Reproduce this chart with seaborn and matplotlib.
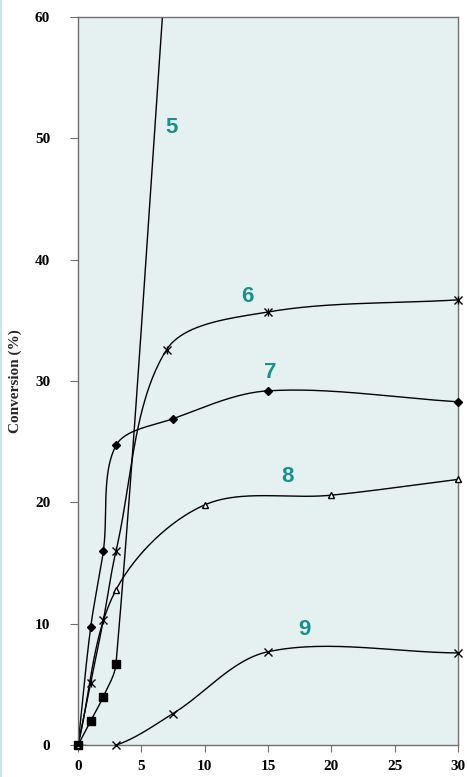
import numpy as np
import pandas as pd
import matplotlib
matplotlib.use("Agg")
import matplotlib.pyplot as plt
from matplotlib.lines import Line2D
import seaborn as sns

# Reaction time (x) and conversion (%) for each catalyst run
t5 = [0, 1, 2, 3, 7]
c5 = [0, 2.0, 4.0, 6.7, 65.0]

t6 = [0, 1, 2, 3, 7, 15, 30]
c6 = [0, 5.1, 10.3, 16.0, 32.6, 35.7, 36.7]

t7 = [0, 1, 2, 3, 7.5, 15, 30]
c7 = [0, 9.7, 16.0, 24.7, 26.9, 29.2, 28.3]

t8 = [0, 3, 10, 20, 30]
c8 = [0, 12.8, 19.8, 20.6, 21.9]

t9 = [0, 3, 7.5, 15, 30]
c9 = [0, 0.0, 2.6, 7.7, 7.6]

series_names = ["5", "6", "7", "8", "9"]
x_ticks = [0, 5, 10, 15, 20, 25, 30]
y_ticks = [0, 10, 20, 30, 40, 50, 60]


def smooth(xs, ys, n=50):
    """Chord-length scaled Bezier smoothing through every point."""
    p = np.column_stack([xs, ys]).astype(float)
    m = len(p)
    d = np.linalg.norm(np.diff(p, axis=0), axis=1)
    tang = np.zeros_like(p)
    for i in range(m):
        if i == 0:
            tang[i] = (p[1] - p[0]) / d[0]
        elif i == m - 1:
            tang[i] = (p[-1] - p[-2]) / d[-1]
        else:
            tang[i] = (p[i + 1] - p[i - 1]) / (d[i] + d[i - 1])
    out = []
    s = np.linspace(0, 1, n)[:, None]
    for i in range(m - 1):
        p1, p2 = p[i], p[i + 1]
        c1 = p1 + tang[i] * d[i] / 3.0
        c2 = p2 - tang[i + 1] * d[i] / 3.0
        seg = ((1 - s) ** 3) * p1 + 3 * ((1 - s) ** 2) * s * c1 \
            + 3 * (1 - s) * s ** 2 * c2 + s ** 3 * p2
        out.append(seg if i == 0 else seg[1:])
    return np.vstack(out)


sns.set_theme(style="ticks")
plt.rcParams["font.family"] = ["Liberation Serif", "DejaVu Serif"]

fig = plt.figure(figsize=(4.67, 7.77), dpi=100)
ax = fig.add_axes([0.167, 0.041, 0.814, 0.937])
ax.set_facecolor("#e5f1f1")

data = {
    "5": (t5, c5, "s", 6, "black"),
    "6": (t6, c6, "x", 6, "black"),
    "7": (t7, c7, "D", 4, "black"),
    "8": (t8, c8, "^", 5, "white"),
    "9": (t9, c9, "x", 6, "black"),
}

for name in series_names:
    xs, ys, mk, ms, fc = data[name]
    curve = smooth(xs, ys)
    df_curve = pd.DataFrame({"t": curve[:, 0], "c": curve[:, 1]})
    sns.lineplot(data=df_curve, x="t", y="c", sort=False, estimator=None,
                 color="black", lw=1.0, ax=ax)
    df_pts = pd.DataFrame({"t": xs, "c": ys})
    ax.plot(df_pts["t"], df_pts["c"], linestyle="none", marker=mk,
            markersize=ms, markerfacecolor=fc, markeredgecolor="black",
            markeredgewidth=1.0, clip_on=False, zorder=5)
    if name == "6":
        ax.plot(df_pts["t"], df_pts["c"], linestyle="none", marker="|",
                markersize=6, markeredgecolor="black", markeredgewidth=1.0,
                clip_on=False, zorder=5)

# Run numbers placed next to their curves
label_pos = {"5": (7.35, 50.9), "6": (13.4, 37.0), "7": (15.15, 30.75),
             "8": (16.5, 22.1), "9": (17.9, 9.5)}
for name in series_names:
    x, y = label_pos[name]
    ax.text(x, y, name, color="#16928a", fontsize=16, fontweight="bold",
            family=["Liberation Sans", "DejaVu Sans"], ha="center", va="center")

ax.set_xlim(0, 30)
ax.set_ylim(0, 60)
ax.set_xticks(x_ticks)
ax.set_yticks(y_ticks)
ax.set_xticklabels([str(v) for v in x_ticks], fontsize=11, fontweight="bold")
ax.set_yticklabels([str(v) for v in y_ticks], fontsize=11, fontweight="bold")
ax.tick_params(axis="x", direction="out", length=5, width=0.8, pad=6,
               colors="#707070", labelcolor="black")
ax.tick_params(axis="y", direction="out", length=6, width=0.8, pad=14,
               colors="#707070", labelcolor="black")
for side in ["left", "right", "top", "bottom"]:
    ax.spines[side].set_visible(True)
    ax.spines[side].set_color("#707070")
    ax.spines[side].set_linewidth(1.0)

ax.set_xlabel("")
ax.set_ylabel("Conversion (%)", fontsize=11, fontweight="bold")
ax.yaxis.set_label_coords(-0.147, 0.5)

fig.add_artist(Line2D([0.003, 0.003], [0, 1], transform=fig.transFigure,
                      color="#c6e6e8", lw=1.5))

fig.savefig("out.png", dpi=100)
